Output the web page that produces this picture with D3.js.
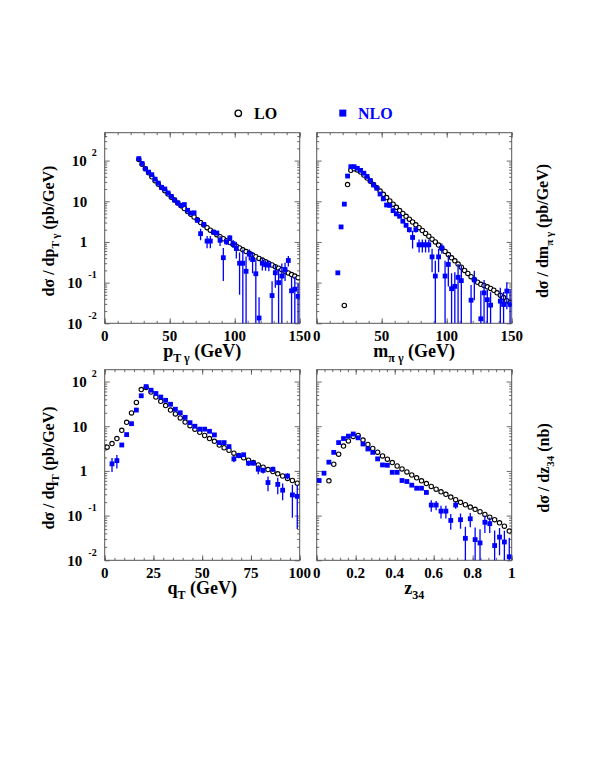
<!DOCTYPE html>
<html>
<head>
<meta charset="utf-8">
<script src="https://d3js.org/d3.v7.min.js"></script>
<style>
body { margin: 0; background: #fff; }
svg text { font-family: "Liberation Serif", "Times New Roman", serif; font-weight: bold; }
</style>
</head>
<body>
<div id="chart"></div>
<script>
// bin centres (2.5 GeV bins, 0.025 bins for z34)
function binCenters(first, step, n) {
    return d3.range(n).map(i => +(first + i * step).toFixed(4));
}

// pT gamma
var ptBins = binCenters(26.25, 2.5, 50);
var ptLO = [107, 81, 63, 50, 40, 32, 26.3, 21.9, 18.2, 15.1,
    12.6, 10.7, 9.1, 7.8, 6.6, 5.6, 4.8, 4.1, 3.5, 3.0,
    2.6, 2.24, 1.95, 1.72, 1.51, 1.35, 1.20, 1.07, 0.97, 0.87,
    0.785, 0.71, 0.64, 0.58, 0.525, 0.476, 0.433, 0.394, 0.358, 0.326,
    0.297, 0.271, 0.247, 0.226, 0.207, 0.189, 0.173, 0.158, 0.145, 0.132];
var ptNLO = [112, 85, 63, 52, 45, 35, 28, 22, 20, 16,
    13.2, 10.7, 9.1, 7.9, 8.3, 6.0, 5.1, 5.2, 3.4, 1.6,
    2.7, 1.05, 1.05, 1.74, 1.66, 1.1, 0.41, 1.0, 1.26, 0.91,
    0.69, 0.30, 0.30, 0.19, 0.5, 0.37, 0.165, 0.0135, 0.30, 0.275,
    0.27, 0.048, 0.175, 0.10, 0.145, 0.21, 0.35, 0.063, 0.069, 0.046];
var ptNLOErr = [3, 2.5, 2, 1.6, 1.4, 1.1, 0.9, 0.7, 0.7, 0.6,
    0.5, 0.45, 0.4, 0.35, 0.4, 0.3, 0.3, 0.3, 0.25, 0.5,
    0.3, 0.35, 0.35, 0.2, 0.2, 0.3, 0.3, 0.15, 0.2, 0.2,
    0.3, 0.25, 0.35, 0.25, 0.15, 0.2, 0.2, 0.03, 0.1, 0.08,
    0.08, 0.06, 0.1, 0.12, 0.15, 0.1, 0.1, 0.08, 0.07, 0.05];

// m pi gamma
var mBinsLO = binCenters(21.25, 2.5, 52);
var mLO = [0.0275, 25.7, 57.5, 63.1, 58.9, 52.5, 44.2, 37.2, 30.9, 25.7,
    21.4, 17.8, 14.8, 12.3, 10.2, 8.5, 7.1, 5.9, 5.0, 4.27,
    3.63, 3.09, 2.63, 2.24, 1.91, 1.62, 1.38, 1.17, 1.00, 0.836,
    0.70, 0.585, 0.49, 0.407, 0.343, 0.286, 0.24, 0.20, 0.168, 0.14,
    0.117, 0.102, 0.091, 0.085, 0.079, 0.072, 0.065, 0.056, 0.049, 0.043,
    0.036, 0.032];
var mBinsNLO = binCenters(16.25, 2.5, 54);
var mNLO = [0.174, 2.34, 8.5, 41.7, 70.8, 70.8, 64.6, 57.5, 49.0, 40.7,
    32.4, 25.1, 20.9, 15.1, 11.5, 8.1, 7.9, 5.9, 4.9, 4.27,
    3.24, 2.57, 2.0, 1.29, 2.0, 0.85, 0.85, 0.85, 0.85, 0.43,
    0.145, 0.43, 0.71, 0.145, 0.28, 0.071, 0.081, 0.135, 0.112, null,
    null, 0.037, 0.117, null, 0.0129, 0.056, 0.038, 0.028, null, null,
    0.035, 0.029, 0.062, 0.029];
var mNLOErr = [0.02, 0.12, 0.3, 1.2, 2, 2, 1.8, 1.6, 1.4, 1.2,
    1.0, 0.8, 0.7, 0.6, 0.5, 0.4, 0.4, 0.3, 0.3, 0.3,
    0.3, 0.3, 0.3, 0.6, 0.3, 0.3, 0.3, 0.3, 0.3, 0.25,
    0.2, 0.25, 0.2, 0.2, 0.2, 0.1, 0.1, 0.15, 0.15, 0,
    0, 0.05, 0.08, 0, 0.05, 0.06, 0.03, 0.03, 0, 0,
    0.04, 0.03, 0.04, 0.04];

// qT
var qBins = binCenters(1.25, 2.5, 40);
var qLO = [3.4, 4.1, 5.3, 8.1, 12.2, 19.8, 34, 66, 74, 58,
    45, 36, 29, 23, 18.8, 15.3, 12.4, 10.3, 8.6, 7.3,
    6.2, 5.3, 4.6, 3.8, 3.3, 2.9, 2.5, 2.2, 1.96, 1.74,
    1.54, 1.36, 1.21, 1.07, 0.97, 0.86, 0.77, 0.68, 0.61, 0.53];
var qNLO = [null, 1.44, 1.7, 3.8, 6.5, 11.4, 23, 48, 77, 64,
    54, 45, 38, 31, 24, 20, 15.8, 12, 10, 8.6,
    8.6, 7.7, 6.4, 4.3, 4.3, 3.5, 1.86, 2.2, 2.3, 1.49,
    1.49, 1.09, 1.03, 0.55, 1.09, 0.5, 0.37, 0.77, 0.29, 0.27];
var qNLOErr = [0, 0.5, 0.57, 0.35, 0.4, 0.5, 0.9, 1.8, 2.5, 2.2,
    2, 1.7, 1.4, 1.2, 1, 0.8, 0.7, 0.6, 0.5, 0.5,
    0.5, 0.5, 0.4, 0.3, 0.3, 0.3, 0.3, 0.2, 0.2, 0.2,
    0.15, 0.25, 0.15, 0.2, 0.15, 0.2, 0.15, 0.12, 0.2, 0.22];

// z34
var zBins = binCenters(0.0125, 0.025, 40);
var zLO = [null, null, 0.6, 1.41, 2.37, 3.6, 4.7, 5.9, 6.22, 4.89,
    3.91, 3.18, 2.63, 2.17, 1.83, 1.54, 1.29, 1.11, 0.95, 0.81,
    0.70, 0.60, 0.52, 0.45, 0.39, 0.34, 0.30, 0.26, 0.227, 0.198,
    0.175, 0.155, 0.138, 0.122, 0.106, 0.092, 0.081, 0.069, 0.058, 0.045];
var zNLO = [0.61, 0.89, 1.57, 2.6, 4.3, 5.3, 6.0, 6.7, 5.5, 4.0,
    3.1, 2.6, 1.86, 1.36, 1.34, 0.93, 0.93, 0.61, 0.58, 0.48,
    0.41, 0.41, 0.33, 0.172, 0.172, 0.126, 0.126, 0.078, 0.172, 0.081,
    0.031, 0.085, 0.029, 0.0245, 0.071, 0.066, 0.0214, 0.033, 0.0257, 0.012];
var zNLOErr = [0.03, 0.04, 0.06, 0.1, 0.15, 0.2, 0.2, 0.22, 0.2, 0.15,
    0.12, 0.1, 0.08, 0.06, 0.06, 0.05, 0.05, 0.04, 0.04, 0.035,
    0.03, 0.03, 0.03, 0.05, 0.04, 0.04, 0.04, 0.03, 0.03, 0.03,
    0.025, 0.03, 0.025, 0.025, 0.03, 0.025, 0.025, 0.02, 0.02, 0.02];

// axis tick labels
var ptTicks = [0, 50, 100, 150];
var qTicks = [0, 25, 50, 75, 100];
var zTicks = [0, 0.2, 0.4, 0.6, 0.8, 1];
var yTicks = [0.01, 0.1, 1, 10, 100];

var svgWidth = 590;
var svgHeight = 763;
var frameW = 195;
var frameH = 190.6;
var blue = "#0000ff";

var svg = d3.select("#chart")
    .append("svg")
    .attr("width", svgWidth)
    .attr("height", svgHeight);

var panels = [
    {id: "pt", left: 104.7, top: 132.7, xMax: 150, yMax: 485, xTicks: ptTicks, xMinor: 10,
     loX: ptBins, lo: ptLO, nloX: ptBins, nlo: ptNLO, err: ptNLOErr, yLabels: true,
     xTitle: ["p", "T \u03b3", "(GeV)"], yTitle: ["d\u03c3 / dp", "T \u03b3", "(pb/GeV)"], yTitleX: 54},
    {id: "m", left: 316.7, top: 132.7, xMax: 150, yMax: 485, xTicks: ptTicks, xMinor: 10,
     loX: mBinsLO, lo: mLO, nloX: mBinsNLO, nlo: mNLO, err: mNLOErr, yLabels: false,
     xTitle: ["m", "\u03c0 \u03b3", "(GeV)"], yTitle: ["d\u03c3 / dm", "\u03c0 \u03b3", "(pb/GeV)"], yTitleX: 548},
    {id: "q", left: 104.7, top: 369.7, xMax: 100, yMax: 184, xTicks: qTicks, xMinor: 5,
     loX: qBins, lo: qLO, nloX: qBins, nlo: qNLO, err: qNLOErr, yLabels: true,
     xTitle: ["q", "T", "(GeV)"], yTitle: ["d\u03c3 / dq", "T", "(pb/GeV)"], yTitleX: 54},
    {id: "z", left: 316.7, top: 369.7, xMax: 1, yMax: 184, xTicks: zTicks, xMinor: 0.04,
     loX: zBins, lo: zLO, nloX: zBins, nlo: zNLO, err: zNLOErr, yLabels: false,
     xTitle: ["z", "34", ""], yTitle: ["d\u03c3 / dz", "34", "(nb)"], yTitleX: 549}
];

// text with a subscript in the middle
function subText(sel, parts, size, subSize) {
    sel.append("tspan").text(parts[0]);
    sel.append("tspan").attr("dy", 5).attr("font-size", subSize).text(parts[1]);
    sel.append("tspan").attr("dy", -5).attr("font-size", size).text(parts[2] ? "\u00a0" + parts[2] : "");
}

panels.forEach(function(p) {
    var g = svg.append("g")
        .attr("transform", `translate(${p.left}, ${p.top})`);

    var x = d3.scaleLinear().domain([0, p.xMax]).range([0, frameW]);
    var y = d3.scaleLog().domain([0.01, p.yMax]).range([frameH, 0]);

    g.append("clipPath").attr("id", "clip-" + p.id)
        .append("rect").attr("width", frameW).attr("height", frameH);

    // minor and major ticks on all four sides, pointing inward
    var xMinorVals = d3.range(0, p.xMax + 1e-9, p.xMinor);
    var yMinorVals = [];
    [-2, -1, 0, 1, 2].forEach(function(e) {
        d3.range(2, 10).forEach(function(m) {
            var v = m * Math.pow(10, e);
            if (v < p.yMax) yMinorVals.push(v);
        });
    });

    var axes = [
        [d3.axisBottom(x), `translate(0, ${frameH})`, p.xTicks, xMinorVals],
        [d3.axisTop(x), "translate(0, 0)", p.xTicks, xMinorVals],
        [d3.axisLeft(y), "translate(0, 0)", yTicks, yMinorVals],
        [d3.axisRight(y), `translate(${frameW}, 0)`, yTicks, yMinorVals]
    ];
    axes.forEach(function(a) {
        g.append("g").attr("transform", a[1])
            .call(a[0].tickValues(a[3]).tickSizeInner(-2.5).tickSizeOuter(0).tickFormat(""));
        g.append("g").attr("transform", a[1])
            .call(a[0].tickValues(a[2]).tickSizeInner(-5).tickSizeOuter(0).tickFormat(""));
    });
    g.selectAll(".domain").remove();
    g.selectAll(".tick line").attr("stroke", "#444").attr("stroke-width", 0.8);

    // frame
    g.append("rect")
        .attr("width", frameW)
        .attr("height", frameH)
        .attr("fill", "none")
        .attr("stroke", "#555")
        .attr("stroke-width", 1);

    // x tick labels
    g.selectAll(".xlab")
        .data(p.xTicks)
        .enter()
        .append("text")
        .attr("x", d => x(d))
        .attr("y", frameH + 18)
        .attr("text-anchor", "middle")
        .attr("font-size", "15px")
        .text(d => d3.format("~g")(d));

    // y tick labels (ROOT style 10^n)
    if (p.yLabels) {
        yTicks.forEach(function(v) {
            var e = Math.round(Math.log10(v));
            var t = g.append("text")
                .attr("y", y(v) + 5.5)
                .attr("text-anchor", "end")
                .attr("font-size", "15px");
            if (e === 0 || e === 1) {
                t.attr("x", -17.5).text(v);
            } else {
                t.attr("x", -8);
                t.append("tspan").text("10");
                t.append("tspan").attr("dx", e < 0 ? 6 : 5).attr("dy", -10)
                    .attr("font-size", "10px").text(e);
            }
        });
    }

    // x axis title
    var xt = g.append("text")
        .attr("x", frameW / 2)
        .attr("y", frameH + 34)
        .attr("text-anchor", "middle")
        .attr("font-size", "18px");
    subText(xt, p.xTitle, "18px", "12px");

    // y axis title
    var yt = svg.append("text")
        .attr("transform", `translate(${p.yTitleX}, ${p.top + frameH / 2 + 3}) rotate(-90)`)
        .attr("text-anchor", "middle")
        .attr("font-size", "16px");
    subText(yt, p.yTitle, "16px", "11px");

    var plot = g.append("g").attr("clip-path", `url(#clip-${p.id})`);

    // LO: open circles
    var loData = p.loX.map((b, i) => ({x: b, v: p.lo[i]})).filter(d => d.v != null);
    plot.selectAll("circle")
        .data(loData)
        .enter()
        .append("circle")
        .attr("cx", d => x(d.x))
        .attr("cy", d => y(d.v))
        .attr("r", 2.2)
        .attr("fill", "white")
        .attr("stroke", "black")
        .attr("stroke-width", 1.1);

    // NLO: blue squares with error bars
    var nloData = p.nloX.map((b, i) => ({x: b, v: p.nlo[i], e: p.err[i]})).filter(d => d.v != null);
    plot.selectAll(".err")
        .data(nloData)
        .enter()
        .append("line")
        .attr("x1", d => x(d.x))
        .attr("x2", d => x(d.x))
        .attr("y1", d => y(d.v + d.e))
        .attr("y2", d => d.v - d.e > 0.001 ? y(d.v - d.e) : frameH + 5)
        .attr("stroke", blue)
        .attr("stroke-width", 1.3);
    plot.selectAll(".sq")
        .data(nloData)
        .enter()
        .append("rect")
        .attr("x", d => x(d.x) - 2.4)
        .attr("y", d => y(d.v) - 2.4)
        .attr("width", 4.8)
        .attr("height", 4.8)
        .attr("fill", blue);
});

// legend
var legend = svg.append("g");
legend.append("circle")
    .attr("cx", 238.3).attr("cy", 113.3).attr("r", 3.2)
    .attr("fill", "white").attr("stroke", "black").attr("stroke-width", 1.4);
legend.append("text")
    .attr("x", 254).attr("y", 119)
    .attr("font-size", "16px")
    .text("LO");
legend.append("rect")
    .attr("x", 339.3).attr("y", 109.6).attr("width", 7).attr("height", 7)
    .attr("fill", blue);
legend.append("text")
    .attr("x", 358).attr("y", 119)
    .attr("font-size", "16px")
    .attr("fill", blue)
    .text("NLO");
</script>
</body>
</html>
